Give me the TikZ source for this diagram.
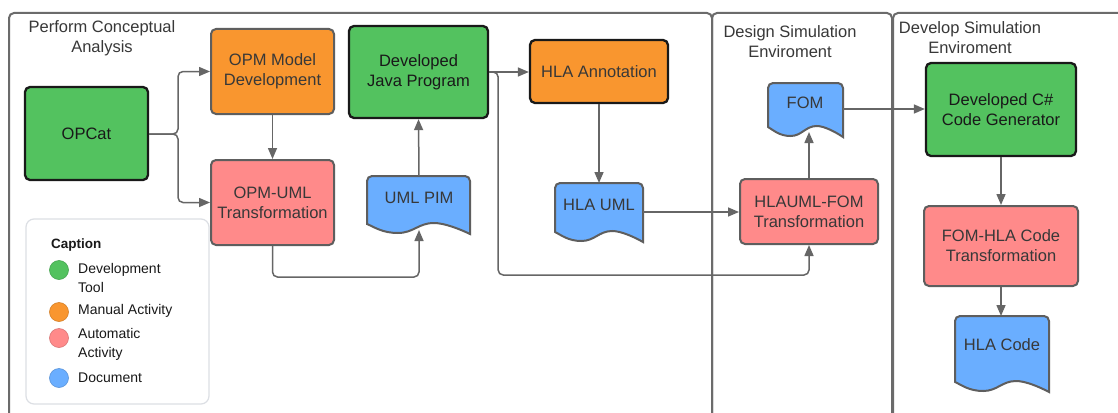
\documentclass[tikz,border=0pt]{standalone}
\usepackage{fontspec}
\setmainfont{Liberation Sans}
\usetikzlibrary{arrows.meta}
\definecolor{cgreen}{HTML}{53C25F}
\definecolor{corange}{HTML}{F9962F}
\definecolor{cpink}{HTML}{FF8A8A}
\definecolor{cblue}{HTML}{6AAEFF}
\definecolor{cline}{HTML}{666666}
\definecolor{cborder}{HTML}{5E5E5E}
\definecolor{ctext}{HTML}{383838}
\definecolor{cpanel}{HTML}{6B6B6B}
\definecolor{clegend}{HTML}{DCDFE4}
\newcommand\docshape[4]{%
 \filldraw[docsh] (#1,{#4-10}) -- (#1,{#3+5}) arc[start angle=180,end angle=270,radius=5]
  -- ({#2-5},#3) arc[start angle=270,end angle=360,radius=5] -- (#2,#4)
  .. controls ({#2-0.1*(#2-#1)},{#4-5}) and ({#1+0.75*(#2-#1)},{#4-11}) .. ({#1+0.65*(#2-#1)},{#4-11})
  .. controls ({#1+0.5*(#2-#1)},{#4-11}) and ({#1+0.45*(#2-#1)},{#4-1}) .. ({#1+0.3*(#2-#1)},{#4-1})
  .. controls ({#1+0.15*(#2-#1)},{#4-1}) and ({#1+0.07*(#2-#1)},{#4-7}) .. (#1,{#4-10}) -- cycle;}
\begin{document}
\begin{tikzpicture}[x=1pt,y=-1pt,
  nodefont/.style={font=\fontsize{16.5}{20}\selectfont},
  box/.style={rounded corners=5, inner sep=2, align=center, nodefont, line width=2, draw=cborder, text=ctext},
  gbox/.style={box, fill=cgreen, draw=black!90, line width=2.3, text=black!90},
  obox/.style={box, fill=corange},
  pbox/.style={box, fill=cpink},
  docsh/.style={fill=cblue, draw=cborder, line width=2},
  doctext/.style={nodefont, text=ctext, inner sep=0},
  conn/.style={draw=cline, line width=1.5, rounded corners=5, -{Triangle[length=11pt,width=9pt]}},
  panel/.style={draw=cpanel, line width=2, rounded corners=5},
  title/.style={font=\fontsize{16.5}{20}\selectfont, text=ctext, align=center},
  legbox/.style={draw=clegend, line width=1.2, fill=white, rounded corners=8},
  legtitle/.style={font=\bfseries\fontsize{13.5}{16}\selectfont, text=black!90, anchor=west, inner sep=0},
  legtext/.style={font=\fontsize{14}{19}\selectfont, text=black!90, anchor=west, align=left, inner sep=0},
  legdot/.style={circle, minimum size=19, inner sep=0, line width=0.6}
]
\useasboundingbox (0,0) rectangle (1118,412);
\clip (0,0) rectangle (1118,412);
\fill[white] (0,0) rectangle (1118,412);

% panels
\draw[panel] (9,440) |- (712,13) -- (712,440);
\draw[panel] (712,440) |- (892,13) -- (892,440);
\draw[panel] (893,440) |- (1140,13);

% titles
\node[title] (t1) at (102,38) {Perform Conceptual\\Analysis};
\node[title] (t2) at (790,42) {Design Simulation\\Enviroment};
\node[title] (t3) at (970,38) {Develop Simulation\\Enviroment};

% legend
\node[legbox, minimum width=183, minimum height=185] (legend) at (117.5,311.5) {};
\node[legtitle] (cap) at (51,245) {Caption};
\node[legdot, fill=cgreen, draw=cgreen!85!black] (d1) at (59,270) {};
\node[legdot, fill=corange, draw=corange!85!black] (d2) at (59,312) {};
\node[legdot, fill=cpink, draw=cpink!85!black] (d3) at (59,338) {};
\node[legdot, fill=cblue, draw=cblue!85!black] (d4) at (59,378) {};
\node[legtext] (l1) at (78,278) {Development\\Tool};
\node[legtext] (l2) at (78,311) {Manual Activity};
\node[legtext] (l3) at (78,344) {Automatic\\Activity};
\node[legtext] (l4) at (78,378) {Document};

% process nodes
\node[gbox, minimum width=123, minimum height=93] (opcat) at (86.5,133.5) {OPCat};
\node[obox, minimum width=123, minimum height=85] (opm) at (272.5,71.5) {OPM Model\\Development};
\node[pbox, minimum width=123, minimum height=85] (opmuml) at (272.5,202.5) {OPM-UML\\Transformation};
\node[gbox, minimum width=139, minimum height=92] (java) at (418.5,72) {Developed\\Java Program};
\node[obox, draw=black!90, line width=2.3, minimum width=138, minimum height=63] (hlaann) at (599,71.5) {HLA Annotation};
\node[pbox, minimum width=138, minimum height=65] (hlafom) at (809,211.5) {HLAUML-FOM\\Transformation};
\node[gbox, minimum width=150, minimum height=93] (csharp) at (1001,109.5) {Developed C\#\\Code Generator};
\node[pbox, minimum width=154, minimum height=80] (fomhla) at (1001,246) {FOM-HLA Code\\Transformation};

% documents
\docshape{367}{470}{176}{234}
\node[doctext] (umlpim) at (419,198) {UML PIM};
\coordinate (umlpimT) at (419,176);
\coordinate (umlpimB) at (419,230);
\docshape{555}{643}{183}{242}
\node[doctext] (hlauml) at (599,205) {HLA UML};
\coordinate (hlaumlT) at (599,183);
\coordinate (hlaumlR) at (643,212);
\docshape{768}{843}{83}{137}
\node[doctext] (fom) at (805,103) {FOM};
\coordinate (fomB) at (809,132);
\coordinate (fomR) at (843,109);
\docshape{955}{1049}{316}{392}
\node[doctext] (hlacode) at (1002,345) {HLA Code};
\coordinate (hlacodeT) at (1001,316);

% connectors
\coordinate (br) at (178,134);
\draw[conn] (opcat.east |- br) -- (br) |- (opm.west);
\draw[conn] (opcat.east |- br) -- (br) |- (opmuml.west);
\draw[conn] (opm.south) -- (opmuml.north);
\draw[conn] (opmuml.south) -- ++(0,31) -| (umlpimB);
\draw[conn] (umlpimT) -- (java.south);
\draw[conn] (java.east) -- (java.east -| hlaann.west);
\draw[conn] (java.east) -- ++(9,0) -- ++(0,203) -| (hlafom.south);
\draw[conn] (hlaann.south) -- (hlaumlT);
\draw[conn] (hlaumlR) -- (hlaumlR -| hlafom.west);
\draw[conn] (hlafom.north) -- (fomB);
\draw[conn] (fomR) -- (fomR -| csharp.west);
\draw[conn] (csharp.south) -- (fomhla.north);
\draw[conn] (fomhla.south) -- (hlacodeT);
\end{tikzpicture}
\end{document}
